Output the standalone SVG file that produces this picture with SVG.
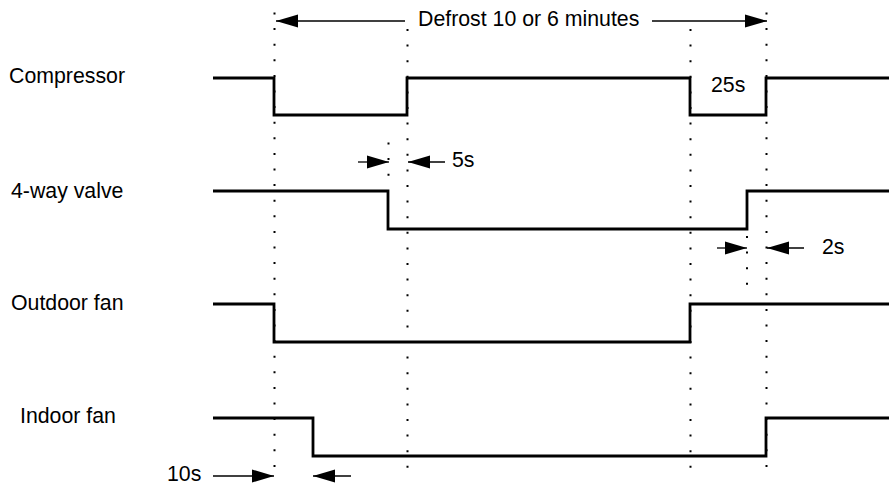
<svg xmlns="http://www.w3.org/2000/svg" width="890" height="492" viewBox="0 0 890 492">
<style>
text{font-family:"Liberation Sans",Arial,sans-serif;font-size:21.3px;fill:#000}
.sig{fill:none;stroke:#000;stroke-width:2.8;stroke-linejoin:miter}
.dot{stroke:#000;stroke-width:2;stroke-dasharray:2 13.6}
.arr{stroke:#000;stroke-width:1.3;fill:none;marker-end:url(#ah)}
</style>
<defs>
<marker id="ah" markerUnits="userSpaceOnUse" markerWidth="22" markerHeight="14" viewBox="0 0 22 14" refX="22" refY="7" orient="auto">
<path d="M0,0.5 L22,7 L0,13.5 Z" fill="#000"/>
</marker>
</defs>
<rect width="890" height="492" fill="#fff"/>
<g id="guides">
<line class="dot" x1="274.5" y1="12.5" x2="274.5" y2="480"/>
<line class="dot" x1="407.5" y1="29" x2="407.5" y2="480"/>
<line class="dot" x1="690.5" y1="29" x2="690.5" y2="480"/>
<line class="dot" x1="766.5" y1="12.5" x2="766.5" y2="480"/>
<line class="dot" x1="388.5" y1="142.5" x2="388.5" y2="177"/>
<line class="dot" x1="747" y1="236" x2="747" y2="288"/>
</g>
<g id="compressor">
<text x="9" y="83">Compressor</text>
<polyline class="sig" points="213,78 274,78 274,115 407,115 407,78 690,78 690,115 766,115 766,78 889,78"/>
</g>
<g id="valve">
<text x="11" y="198">4-way valve</text>
<polyline class="sig" points="213,191 388,191 388,229 747,229 747,191 889,191"/>
</g>
<g id="outdoor-fan">
<text x="11" y="310">Outdoor fan</text>
<polyline class="sig" points="213,304 274,304 274,342 690,342 690,304 889,304"/>
</g>
<g id="indoor-fan">
<text x="20" y="423">Indoor fan</text>
<polyline class="sig" points="213,418 313,418 313,456 766,456 766,418 889,418"/>
</g>
<g id="connectors">
<line class="arr" x1="405" y1="21" x2="276" y2="21"/>
<line class="arr" x1="652" y1="21" x2="767" y2="21"/>
<line class="arr" x1="358" y1="162" x2="389" y2="162"/>
<line class="arr" x1="445" y1="162" x2="408" y2="162"/>
<line class="arr" x1="717" y1="248" x2="747" y2="248"/>
<line class="arr" x1="804" y1="248" x2="767" y2="248"/>
<line class="arr" x1="213" y1="476" x2="274" y2="476"/>
<line class="arr" x1="351" y1="476" x2="313" y2="476"/>
</g>
<g id="labels">
<text x="418" y="26">Defrost 10 or 6 minutes</text>
<text x="711" y="92">25s</text>
<text x="452" y="167">5s</text>
<text x="822" y="254">2s</text>
<text x="167" y="481">10s</text>
</g>
</svg>
